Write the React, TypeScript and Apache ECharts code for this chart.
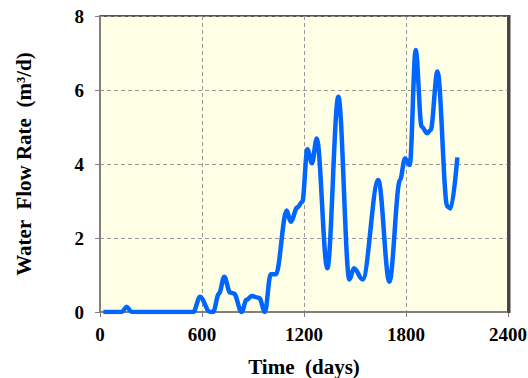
import React, { useEffect, useRef } from "react";
import * as echarts from "echarts";

const days = [20, 128, 157, 186, 549, 588, 647, 665, 700, 731, 765, 788, 833, 862, 892, 937, 970, 1004, 1035, 1098, 1122, 1161, 1190, 1220, 1247, 1275, 1337, 1402, 1467, 1494, 1545, 1637, 1702, 1765, 1794, 1822, 1857, 1892, 1925, 1945, 1985, 2043, 2063, 2102];
const flow = [0, 0, 0.14, 0, 0, 0.41, 0, 0, 0.5, 0.95, 0.53, 0.5, 0, 0.33, 0.43, 0.38, 0, 1.02, 1.02, 2.74, 2.44, 2.83, 2.98, 4.4, 4.02, 4.69, 1.18, 5.82, 0.88, 1.18, 0.88, 3.57, 0.82, 3.57, 4.15, 3.97, 7.08, 5.01, 4.83, 4.92, 6.5, 2.85, 2.8, 4.18];
const xTicks = [0, 600, 1200, 1800, 2400];
const yTicks = [0, 2, 4, 6, 8];

export default function App() {
  const ref = useRef<HTMLDivElement>(null);
  useEffect(() => {
    const chart = echarts.init(ref.current!, null, { renderer: "svg" });
    const font = "'Liberation Serif', 'Times New Roman', serif";
    chart.setOption({
      animation: false,
      grid: {
        left: 100,
        right: 20,
        top: 16,
        bottom: 66,
        outerBoundsMode: "none",
        containLabel: false,
        show: true,
        backgroundColor: "#FFFFE5",
        borderColor: "#555",
        borderWidth: 2,
      },
      graphic: [
        {
          type: "line",
          shape: { x1: 509, y1: 15, x2: 509, y2: 313 },
          style: { stroke: "#444", lineWidth: 3 },
          z: 10,
        },
      ],
      xAxis: {
        type: "value",
        min: xTicks[0],
        max: xTicks[xTicks.length - 1],
        interval: 600,
        name: "Time  (days)",
        nameLocation: "middle",
        nameGap: 44,
        nameTextStyle: { fontFamily: font, fontWeight: "bold", fontSize: 21, color: "#000" },
        axisLine: { show: true, lineStyle: { color: "#808080", width: 2 } },
        axisTick: { show: true, length: 5, lineStyle: { color: "#808080" } },
        axisLabel: {
          fontFamily: font, fontWeight: "bold", fontSize: 19, color: "#000", margin: 13,
          hideOverlap: false,
          formatter: (v: number) => String(v),
        },
        splitLine: { show: true, lineStyle: { color: "#999", type: [4, 3], width: 1 } },
      },
      yAxis: {
        type: "value",
        min: yTicks[0],
        max: yTicks[yTicks.length - 1],
        interval: 2,
        name: "Water  Flow Rate  (m³/d)",
        nameLocation: "middle",
        nameGap: 66,
        nameTextStyle: { fontFamily: font, fontWeight: "bold", fontSize: 21, color: "#000" },
        axisLine: { show: true, lineStyle: { color: "#808080", width: 2 } },
        axisTick: { show: true, length: 5, lineStyle: { color: "#808080" } },
        axisLabel: {
          fontFamily: font, fontWeight: "bold", fontSize: 19, color: "#000", margin: 16,
          formatter: (v: number) => String(v),
        },
        splitLine: { show: true, lineStyle: { color: "#999", type: [4, 3], width: 1 } },
      },
      series: [
        {
          type: "line",
          data: days.map((d, i) => [d, flow[i]]),
          smooth: 0.35,
          smoothMonotone: "x",
          showSymbol: false,
          lineStyle: { color: "#0066FF", width: 4.5 },
        },
      ],
    });
    return () => chart.dispose();
  }, []);
  return <div ref={ref} style={{ position: "absolute", left: 0, top: 0, width: 528, height: 378 }} />;
}
